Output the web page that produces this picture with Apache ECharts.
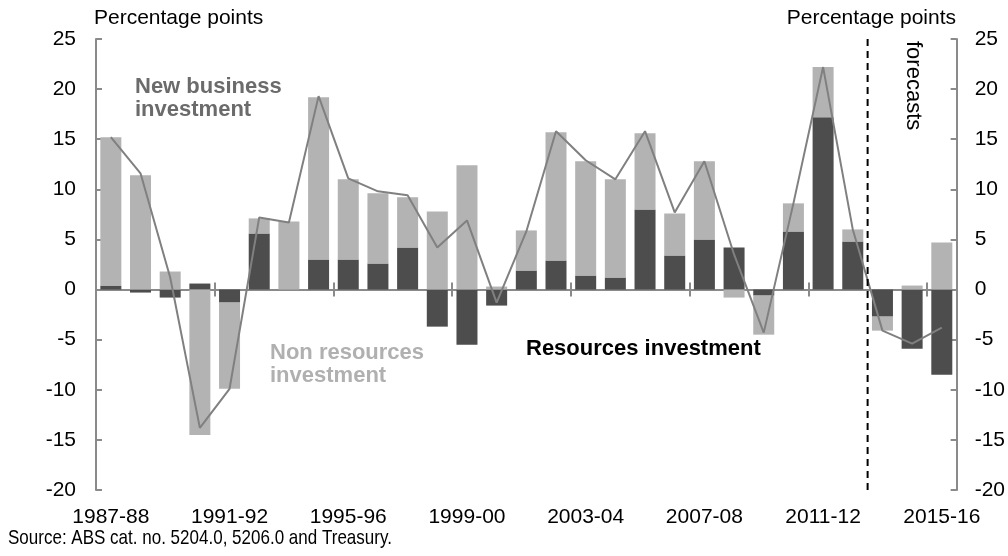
<!DOCTYPE html>
<html>
<head>
<meta charset="utf-8">
<script src="https://cdn.jsdelivr.net/npm/echarts@6/dist/echarts.min.js"></script>
<style>
  html, body { margin: 0; padding: 0; background: #fff; }
  #chart { width: 1008px; height: 556px; }
</style>
</head>
<body>
<div id="chart"></div>
<script>
// financial years
const years = [
  '1987-88','1988-89','1989-90','1990-91','1991-92','1992-93','1993-94','1994-95',
  '1995-96','1996-97','1997-98','1998-99','1999-00','2000-01','2001-02','2002-03',
  '2003-04','2004-05','2005-06','2006-07','2007-08','2008-09','2009-10','2010-11',
  '2011-12','2012-13','2013-14','2014-15','2015-16'
];
// contributions, percentage points
const resources = [0.4,-0.3,-0.8,0.6,-1.3,5.6,0,3.0,3.0,2.6,4.2,-3.7,-5.5,-1.6,1.9,2.9,1.4,1.2,8.0,3.4,5.0,4.2,-0.6,5.8,17.2,4.8,-2.7,-5.9,-8.5];
const nonResources = [14.8,11.4,1.8,-14.5,-8.6,1.5,6.8,16.2,8.0,7.0,5.0,7.8,12.4,0.3,4.0,12.8,11.4,9.8,7.6,4.2,7.8,-0.8,-3.9,2.8,5.0,1.2,-1.4,0.4,4.7];
const newBusiness = [15.2,11.6,1.2,-13.8,-9.9,7.2,6.7,19.3,11.1,9.8,9.4,4.2,6.9,-1.3,5.8,15.8,12.9,11.0,15.8,7.7,12.8,3.5,-4.3,8.6,22.2,6.0,-4.1,-5.4,-3.8];
// forecasts start after 2012-13 (boundary index on a 0..29 scale)
const forecastStart = 26;
const yTicks = { min: -20, max: 25, step: 5 };

const FONT = '"Liberation Sans", Arial, sans-serif';
const AXIS_GREY = '#8a8a8a';

const chart = echarts.init(document.getElementById('chart'), null, { renderer: 'canvas' });

const yCommon = {
  type: 'value',
  min: yTicks.min,
  max: yTicks.max,
  interval: yTicks.step,
  splitLine: { show: false },
  axisLine: { show: true, lineStyle: { color: AXIS_GREY, width: 2 } },
  axisTick: { show: true, inside: true, length: 6, lineStyle: { color: AXIS_GREY, width: 2 } },
  axisLabel: { color: '#000', fontSize: 21, fontFamily: FONT },
};

chart.setOption({
  animation: false,
  backgroundColor: '#fff',
  grid: { left: 96, right: 50, top: 39, bottom: 66 },
  xAxis: [
    {
      // labels at bottom
      type: 'category',
      data: years,
      position: 'bottom',
      axisLine: { show: false, onZero: false },
      axisTick: { show: false },
      axisLabel: { interval: 3, margin: 17, color: '#000', fontSize: 21, fontFamily: FONT },
    },
    {
      // zero line with ticks pointing down
      type: 'category',
      data: years,
      position: 'bottom',
      axisLine: { show: true, onZero: true, lineStyle: { color: AXIS_GREY, width: 2 } },
      axisTick: { show: true, interval: 3, length: 7, lineStyle: { color: AXIS_GREY, width: 2 } },
      axisLabel: { show: false },
    },
    {
      // ticks pointing up
      type: 'category',
      data: years,
      position: 'bottom',
      axisLine: { show: false, onZero: true },
      axisTick: { show: true, inside: true, interval: 3, length: 7, lineStyle: { color: AXIS_GREY, width: 2 } },
      axisLabel: { show: false },
    },
    {
      // helper scale for the forecast divider
      type: 'value',
      min: 0,
      max: years.length,
      show: false,
    },
  ],
  yAxis: [
    Object.assign({}, yCommon, { position: 'left', axisLabel: Object.assign({}, yCommon.axisLabel, { margin: 20 }) }),
    Object.assign({}, yCommon, { position: 'right', axisLabel: Object.assign({}, yCommon.axisLabel, { margin: 18 }) }),
  ],
  series: [
    {
      name: 'Resources investment',
      type: 'bar',
      stack: 'inv',
      data: resources,
      barWidth: 21,
      itemStyle: { color: '#4d4d4d' },
    },
    {
      name: 'Non resources investment',
      type: 'bar',
      stack: 'inv',
      data: nonResources,
      barWidth: 21,
      itemStyle: { color: '#b3b3b3' },
    },
    {
      name: 'New business investment',
      type: 'line',
      data: newBusiness,
      symbol: 'none',
      lineStyle: { color: '#808080', width: 2 },
      z: 5,
    },
    {
      name: 'forecast divider',
      type: 'line',
      xAxisIndex: 3,
      data: [[forecastStart, yTicks.min], [forecastStart, yTicks.max]],
      symbol: 'none',
      lineStyle: { color: '#000', width: 2, type: [7, 5] },
      z: 6,
    },
  ],
  graphic: [
    { type: 'text', left: 94, top: 8, style: { text: 'Percentage points', font: '21px ' + FONT, fill: '#000' } },
    { type: 'text', right: 52, top: 8, style: { text: 'Percentage points', font: '21px ' + FONT, fill: '#000' } },
    {
      type: 'text', x: 913, y: 41, rotation: -Math.PI / 2,
      style: { text: 'forecasts', font: '22px ' + FONT, fill: '#000', textAlign: 'left', textVerticalAlign: 'middle' },
    },
    {
      type: 'text', left: 135, top: 75,
      style: { text: 'New business\ninvestment', font: 'bold 22px ' + FONT, fill: '#6b6b6b', lineHeight: 23 },
    },
    {
      type: 'text', left: 270, top: 341,
      style: { text: 'Non resources\ninvestment', font: 'bold 22px ' + FONT, fill: '#b0b0b0', lineHeight: 23 },
    },
    {
      type: 'text', left: 526, top: 338,
      style: { text: 'Resources investment', font: 'bold 22px ' + FONT, fill: '#000' },
    },
    {
      type: 'text', x: 8, y: 528, scaleX: 0.81,
      style: { text: 'Source: ABS cat. no. 5204.0, 5206.0 and Treasury.', font: '21px ' + FONT, fill: '#000', textVerticalAlign: 'top' },
    },
  ],
});
</script>
</body>
</html>
